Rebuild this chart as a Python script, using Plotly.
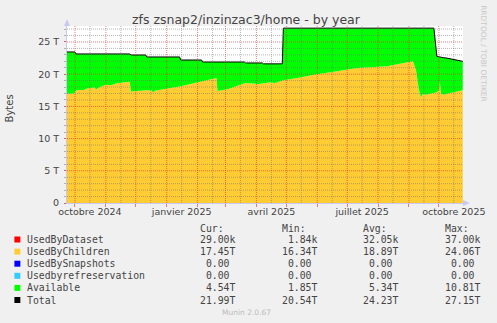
import plotly.graph_objects as go

# ---------------- data (values in terabytes) ----------------
dates = [
    "2024-09-23", "2024-09-30", "2024-10-01", "2024-10-02", "2024-10-07", "2024-10-09",
    "2024-10-14", "2024-10-21", "2024-10-22", "2024-10-25", "2024-11-01", "2024-11-06",
    "2024-11-12", "2024-11-19", "2024-11-24", "2024-11-25", "2024-11-26", "2024-12-04",
    "2024-12-11", "2024-12-12", "2024-12-17", "2024-12-18", "2024-12-21", "2025-01-01",
    "2025-01-14", "2025-01-15", "2025-01-25", "2025-02-05", "2025-02-06", "2025-02-15",
    "2025-02-20", "2025-02-21", "2025-03-04", "2025-03-13", "2025-03-20", "2025-03-21",
    "2025-04-03", "2025-04-07", "2025-04-08", "2025-04-16", "2025-04-19", "2025-04-27",
    "2025-04-28", "2025-05-12", "2025-05-29", "2025-06-21", "2025-07-11", "2025-08-10",
    "2025-08-30", "2025-09-05", "2025-09-08", "2025-09-11", "2025-09-13", "2025-09-15",
    "2025-09-18", "2025-09-26", "2025-09-29", "2025-10-01", "2025-10-02", "2025-10-03",
    "2025-10-06", "2025-10-09", "2025-10-16", "2025-10-25",
]
used_by_children = [
    16.97, 17.00, 17.20, 17.45, 17.60, 17.50,
    17.80, 17.95, 17.59, 17.95, 18.37, 18.30,
    18.60, 18.70, 18.84, 18.84, 17.33, 17.44,
    17.50, 17.50, 17.45, 17.18, 17.45, 17.80,
    18.10, 18.11, 18.45, 18.80, 18.85, 19.20,
    19.40, 17.40, 17.70, 18.20, 18.63, 18.63,
    18.47, 18.55, 18.55, 18.75, 18.60, 19.00,
    19.05, 19.40, 19.92, 20.44, 20.96, 21.22,
    21.73, 21.99, 20.70, 17.59, 16.40, 16.97,
    16.82, 17.10, 17.18, 17.49, 18.89, 16.97,
    16.82, 16.95, 17.18, 17.49,
]
total = [
    23.45, 23.45, 23.45, 23.14, 23.14, 23.14,
    23.14, 23.14, 23.14, 23.14, 23.14, 23.14,
    23.14, 23.14, 23.14, 23.14, 22.98, 22.98,
    22.98, 22.67, 22.67, 22.67, 22.67, 22.67,
    22.67, 22.20, 22.20, 22.20, 21.89, 21.89,
    21.89, 21.89, 21.89, 21.89, 21.89, 21.74,
    21.74, 21.74, 21.60, 21.60, 21.60, 21.60,
    27.15, 27.15, 27.15, 27.15, 27.15, 27.15,
    27.15, 27.15, 27.15, 27.15, 27.15, 27.15,
    27.15, 27.15, 22.76, 22.68, 22.64, 22.60,
    22.55, 22.50, 22.30, 21.99,
]
available = [round(t - c, 4) for t, c in zip(total, used_by_children)]

y_tick_vals = [0, 5, 10, 15, 20, 25]
y_tick_text = ["0", "5 T", "10 T", "15 T", "20 T", "25 T"]
x_label_dates = ["2024-10-16", "2025-01-16", "2025-04-16", "2025-07-16", "2025-10-16"]
x_label_text = ["octobre 2024", "janvier 2025", "avril 2025", "juillet 2025", "octobre 2025"]
month_starts = ["2024-10-01", "2024-11-01", "2024-12-01", "2025-01-01", "2025-02-01",
                "2025-03-01", "2025-04-01", "2025-05-01", "2025-06-01", "2025-07-01",
                "2025-08-01", "2025-09-01", "2025-10-01"]
mid_months = ["2024-10-16", "2024-11-16", "2024-12-16", "2025-01-16", "2025-02-16",
              "2025-03-16", "2025-04-16", "2025-05-16", "2025-06-16", "2025-07-16",
              "2025-08-16", "2025-09-16", "2025-10-16"]

legend_names = ["UsedByDataset", "UsedByChildren", "UsedBySnapshots",
                "Usedbyrefreservation", "Available", "Total"]
legend_colors = ["#FF0000", "#FFCC33", "#0000FF", "#33CCFF", "#00FF00", "#000000"]
cur_vals = ["29.00k", "17.45T", " 0.00 ", " 0.00 ", " 4.54T", "21.99T"]
min_vals = [" 1.84k", "16.34T", " 0.00 ", " 0.00 ", " 1.85T", "20.54T"]
avg_vals = ["32.05k", "18.89T", " 0.00 ", " 0.00 ", " 5.34T", "24.23T"]
max_vals = ["37.00k", "24.06T", " 0.00 ", " 0.00 ", "10.81T", "27.15T"]

# ---------------- layout geometry ----------------
W, H = 497, 323
L, R, T, B = 67, 31, 26, 120
PW, PH = W - L - R, H - T - B


def px(x):
    return (x - L) / PW


def py(y):
    return (H - B - y) / PH


fig = go.Figure()
fig.add_trace(go.Scatter(x=dates, y=used_by_children, name="UsedByChildren",
                         stackgroup="s", mode="lines", line=dict(width=0, color="#FFCC33"),
                         fillcolor="#FFCC33"))
fig.add_trace(go.Scatter(x=dates, y=available, name="Available",
                         stackgroup="s", mode="lines", line=dict(width=0, color="#00FF00"),
                         fillcolor="#00FF00"))
fig.add_trace(go.Scatter(x=dates, y=total, name="Total", mode="lines",
                         line=dict(width=1, color="#000000")))

shapes = []
red = "rgba(235,40,40,0.6)"
grey = "rgba(110,110,110,0.5)"
for d in mid_months:
    shapes.append(dict(type="line", xref="x", yref="paper", x0=d, x1=d, y0=0, y1=1,
                       line=dict(color=grey, width=1, dash="1px,1px"), layer="above"))
for d in month_starts:
    shapes.append(dict(type="line", xref="x", yref="paper", x0=d, x1=d, y0=0, y1=1,
                       line=dict(color=red, width=1, dash="1px,1px"), layer="above"))
for v in range(1, 28):
    shapes.append(dict(type="line", xref="paper", yref="y", x0=0, x1=1, y0=v, y1=v,
                       line=dict(color=red if v % 5 == 0 else grey, width=1, dash="1px,1px"),
                       layer="above"))

# axis arrows
ax_col = "#C8C8F0"
shapes.append(dict(type="path", xref="paper", yref="paper",
                   path=f"M {px(64)} {py(26)} L {px(70)} {py(26)} L {px(67)} {py(19)} Z",
                   fillcolor=ax_col, line=dict(width=0)))
shapes.append(dict(type="path", xref="paper", yref="paper",
                   path=f"M {px(466)} {py(200)} L {px(466)} {py(206)} L {px(473)} {py(203)} Z",
                   fillcolor=ax_col, line=dict(width=0)))

annotations = []
txt_col = "#444444"
mono = "DejaVu Sans Mono"
sans = "DejaVu Sans"


def nb(s):
    return s.replace(" ", "\u00a0")


def add_text(x, y, text, size, color=txt_col, family=sans, xanchor="left", angle=0):
    annotations.append(dict(xref="paper", yref="paper", x=px(x), y=py(y), text=nb(text),
                            showarrow=False, xanchor=xanchor, yanchor="middle",
                            textangle=angle, borderpad=0,
                            font=dict(family=family, size=size, color=color)))


add_text(248, 19, "zfs zsnap2/inzinzac3/home - by year", 12.5, color="#444444", xanchor="center")
add_text(10, 108, "Bytes", 10, xanchor="center", angle=-90)
add_text(487, 54, "RRDTOOL / TOBI OETIKER", 7.5, color="#C8C8C8", xanchor="center", angle=90)
add_text(248, 312, "Munin 2.0.67", 7.5, color="#BBBBBB", xanchor="center")

col_x = [199.5, 282.5, 364.0, 446.7]
for cx, h in zip(col_x, ["Cur:", "Min:", "Avg:", "Max:"]):
    add_text(cx, 228.5, h, 9.8, family=mono)

row_y0, row_dy = 239.5, 12.1
for i, name in enumerate(legend_names):
    yy = row_y0 + i * row_dy
    shapes.append(dict(type="rect", xref="paper", yref="paper",
                       x0=px(14), x1=px(20), y0=py(yy + 3), y1=py(yy - 3),
                       fillcolor=legend_colors[i], line=dict(width=0)))
    add_text(26, yy, name, 9.8, family=mono)
    for cx, vals in zip(col_x, [cur_vals, min_vals, avg_vals, max_vals]):
        add_text(cx, yy, vals[i], 9.8, family=mono)

fig.update_layout(
    width=W, height=H,
    margin=dict(l=L, r=R, t=T, b=B, pad=0),
    paper_bgcolor="#F0F0F0", plot_bgcolor="#FFFFFF",
    showlegend=False,
    shapes=shapes, annotations=annotations,
    xaxis=dict(type="date", range=["2024-09-23", "2025-10-25 05:00"],
               tickmode="array", tickvals=x_label_dates, ticktext=x_label_text,
               ticks="", showgrid=False, zeroline=False,
               showline=True, linecolor=ax_col, linewidth=1,
               tickfont=dict(family=sans, size=9.5, color=txt_col),
               minor=dict(tickmode="array", tickvals=month_starts, ticks="outside",
                          ticklen=3, tickcolor=red, showgrid=False)),
    yaxis=dict(range=[0, 27.48], tickmode="array", tickvals=y_tick_vals, ticktext=y_tick_text,
               ticks="outside", ticklen=2, tickcolor=red, ticklabelstandoff=3,
               showgrid=False, zeroline=False,
               showline=True, linecolor=ax_col, linewidth=1,
               tickfont=dict(family=sans, size=9.5, color=txt_col),
               minor=dict(dtick=1, ticks="outside", ticklen=2, tickcolor=grey, showgrid=False)),
)

fig.write_html("out.html")
